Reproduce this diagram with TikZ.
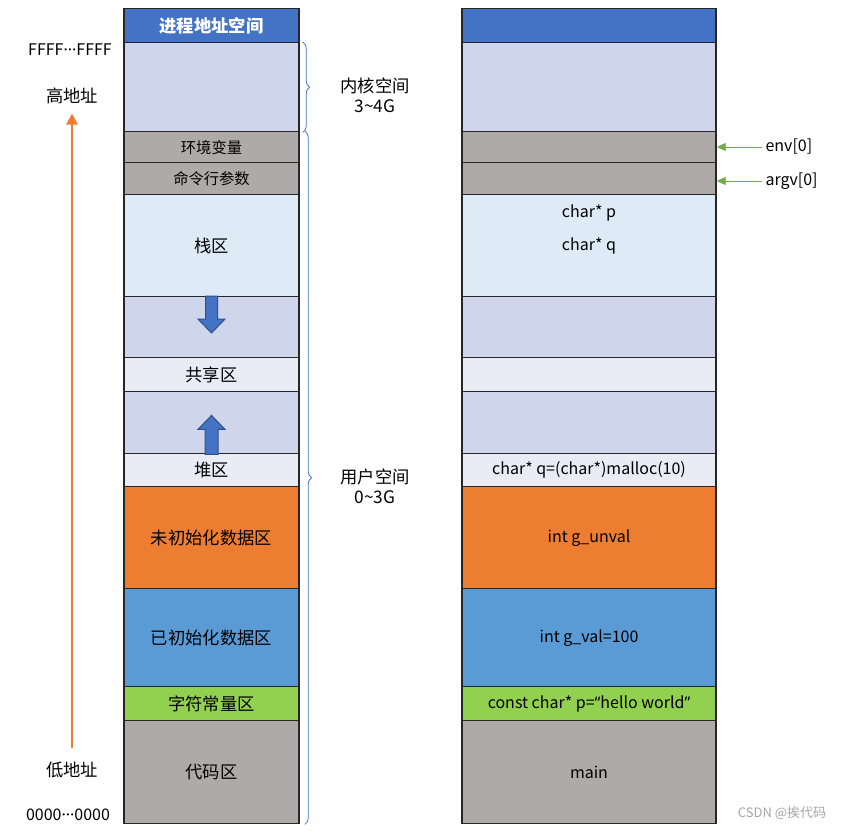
\documentclass[tikz,border=0pt]{standalone}
\usepackage{fontspec}
\setmainfont{Noto Sans CJK SC}
\newfontfamily\latinfont{Noto Sans}
\usetikzlibrary{arrows.meta,decorations.pathreplacing}
\definecolor{hdblue}{HTML}{4472C4}
\definecolor{kern}{HTML}{CFD5EA}
\definecolor{graybox}{HTML}{AEAAAA}
\definecolor{stackc}{HTML}{DEEBF7}
\definecolor{sharec}{HTML}{E9EBF5}
\definecolor{bssc}{HTML}{ED7D31}
\definecolor{datac}{HTML}{5B9BD5}
\definecolor{rodatac}{HTML}{92D050}
\definecolor{ptrgreen}{HTML}{70AD47}
\newcommand\smtxt{\fontsize{15.3}{18}\selectfont}
\newcommand\bgtxt{\fontsize{17.3}{20}\selectfont}
\newcommand\middots{{\latinfont ···}}
\tikzset{
  blk/.style={draw=black!85,line width=1.4pt,inner sep=0pt,anchor=north},
  brc/.style={draw=hdblue,line width=0.8pt,decorate,decoration={brace,amplitude=7pt}},
  ptr/.style={draw=ptrgreen,line width=0.9pt,-{Triangle[length=9pt,width=8pt]}},
  blkarrow/.style={fill=hdblue,draw=hdblue!70!black,line width=1pt},
}
\begin{document}
\begin{tikzpicture}[x=1pt,y=-1pt,every node/.style={font=\fontsize{16}{19}\selectfont}]
\useasboundingbox (0,0) rectangle (848,831);
% memory columns
\foreach \n/\t/\h/\c/\lt/\rt in {
  head/8/34/hdblue/{\bgtxt\bfseries\color{white}进程地址空间}/{},
  kern/42/89/kern/{}/{},
  env/131/31/graybox/{\smtxt 环境变量}/{},
  argv/162/32/graybox/{\smtxt 命令行参数}/{},
  stack/194/102/stackc/{\bgtxt 栈区}/{},
  gapa/296/61/kern/{}/{},
  share/357/34/sharec/{\bgtxt 共享区}/{},
  gapb/391/62/kern/{}/{},
  heap/453/33/sharec/{\bgtxt 堆区}/{char* q=(char*)malloc(10)},
  bss/486/102/bssc/{\bgtxt 未初始化数据区}/{int g\_unval},
  data/588/98/datac/{\bgtxt 已初始化数据区}/{int g\_val=100},
  rodata/686/34/rodatac/{\bgtxt 字符常量区}/{const char* p={\latinfont “}hello world{\latinfont ”}},
  code/720/103/graybox/{\bgtxt 代码区}/{main}}
{
  \node[blk,fill=\c,minimum width=175,minimum height=\h] (L\n) at (211.5,\t) {\lt};
  \node[blk,fill=\c,minimum width=254,minimum height=\h] (R\n) at (589,\t) {\rt};
}
\node (pvar) at ([yshift=33pt]Rstack.center) {char* p};
\node (qvar) at (Rstack.center) {char* q};
% growth arrows
\draw[blkarrow,shift={(Lgapa.north)}] (-6,0) -- (6,0) -- (6,23) -- (13.5,23) -- (0,37) -- (-13.5,23) -- (-6,23) -- cycle;
\draw[blkarrow,shift={(Lgapb.south)}] (-6.5,0) -- (6.5,0) -- (6.5,-25) -- (13.5,-25) -- (0,-39) -- (-13.5,-25) -- (-6.5,-25) -- cycle;
% braces
\draw[brc] ([xshift=3pt]Lkern.north east) -- ([xshift=3pt]Lkern.south east);
\draw[brc] ([xshift=5pt]Lenv.north east) -- ([xshift=5pt]Lcode.south east);
\node[align=center,font=\bgtxt] (kspace) at (375,95) {内核空间\\3\textasciitilde4G};
\node[align=center,font=\bgtxt] (uspace) at (375,486) {用户空间\\0\textasciitilde3G};
% addresses
\node (hiaddr) at (70,50) {FFFF\middots FFFF};
\node[font=\bgtxt] (hi) at (72,96) {高地址};
\node[font=\bgtxt] (lo) at (72,770) {低地址};
\node (loaddr) at (68,815) {0000\middots 0000};
\draw[draw=bssc,line width=2.5pt,-{Triangle[length=11pt,width=11pt]}] ([yshift=10pt]lo.north) -- ([yshift=-6pt]hi.south);
% pointers
\node[anchor=west] (env0) at (762,147) {env[0]};
\node[anchor=west] (argv0) at (762,181) {argv[0]};
\draw[ptr] (env0.west) -- (env0.west -| Renv.east);
\draw[ptr] (argv0.west) -- (argv0.west -| Rargv.east);
\node[text=black!35,font=\fontsize{13}{15}\selectfont] (mark) at (782,813) {CSDN @挨代码};
\end{tikzpicture}
\end{document}
